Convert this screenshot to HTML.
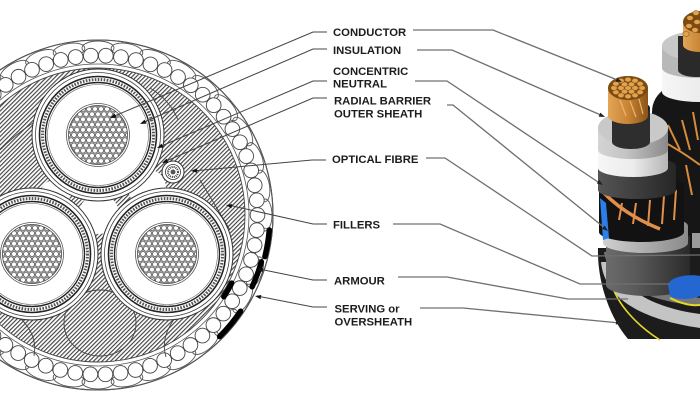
<!DOCTYPE html>
<html><head><meta charset="utf-8"><style>
html,body{margin:0;padding:0;background:#fff;width:700px;height:400px;overflow:hidden}
svg{display:block}
text{font-family:"Liberation Sans",Arial,sans-serif;font-weight:bold;font-size:11.3px;fill:#1c1c1c}
</style></head><body>
<svg width="700" height="400" viewBox="0 0 700 400" xmlns="http://www.w3.org/2000/svg">
<defs>
 <pattern id="h" width="3" height="3" patternUnits="userSpaceOnUse" patternTransform="rotate(45)">
  <rect width="3" height="3" fill="#fff"/>
  <rect x="0" y="0" width="1.15" height="3" fill="#444"/>
 </pattern>
 <pattern id="s" width="6" height="10.392" patternUnits="userSpaceOnUse">
  <rect width="6" height="10.392" fill="#b0b0b0"/>
  <g fill="#fff" stroke="#444" stroke-width="0.6">
   <circle cx="0" cy="0" r="2.4"/><circle cx="6" cy="0" r="2.4"/>
   <circle cx="0" cy="10.392" r="2.4"/><circle cx="6" cy="10.392" r="2.4"/>
   <circle cx="3" cy="5.196" r="2.4"/>
  </g>
 </pattern>
 <g id="core">
  <circle r="66" fill="#fff" stroke="#333" stroke-width="1"/>
  <circle r="62.5" fill="none" stroke="#444" stroke-width="0.8"/>
  <circle r="58.5" fill="none" stroke="#222" stroke-width="1.6"/>
  <circle r="55.5" fill="none" stroke="#555" stroke-width="3" stroke-dasharray="1.6 1.4"/>
  <circle r="52.5" fill="none" stroke="#222" stroke-width="1.4"/>
  <circle r="50.5" fill="none" stroke="#666" stroke-width="0.6"/>
  <circle r="31.5" fill="#fff" stroke="#555" stroke-width="0.8"/>
  <circle r="29.5" fill="url(#s)" stroke="#444" stroke-width="0.8"/>
 </g>
 <ellipse id="ov" cx="98" cy="48" rx="16" ry="7" fill="none" stroke="#555" stroke-width="0.9"/>
 <linearGradient id="gc" x1="0" x2="1"><stop offset="0" stop-color="#6b6b6b"/><stop offset="0.35" stop-color="#5a5a5a"/><stop offset="1" stop-color="#2a2a2a"/></linearGradient>
 <linearGradient id="gi" x1="0" x2="1"><stop offset="0" stop-color="#d4d4d4"/><stop offset="0.4" stop-color="#c4c4c4"/><stop offset="1" stop-color="#8a8a8a"/></linearGradient>
 <linearGradient id="gw" x1="0" x2="1"><stop offset="0" stop-color="#f6f6f6"/><stop offset="0.5" stop-color="#ececec"/><stop offset="1" stop-color="#b5b5b5"/></linearGradient>
 <linearGradient id="gd" x1="0" x2="1"><stop offset="0" stop-color="#555"/><stop offset="1" stop-color="#262626"/></linearGradient>
 <linearGradient id="gb" x1="0" x2="1"><stop offset="0" stop-color="#d0d0d0"/><stop offset="1" stop-color="#8a8a8a"/></linearGradient>
 <linearGradient id="gcu" x1="0" x2="1"><stop offset="0" stop-color="#e3a556"/><stop offset="0.5" stop-color="#c88535"/><stop offset="1" stop-color="#8a5518"/></linearGradient>
</defs>

<!-- ===== LEFT CROSS SECTION ===== -->
<circle cx="98" cy="215" r="175" fill="#fff" stroke="#555" stroke-width="1.1"/>
<g>
 <use href="#ov"/>
 <use href="#ov" transform="rotate(10 98 215)"/><use href="#ov" transform="rotate(20 98 215)"/><use href="#ov" transform="rotate(30 98 215)"/>
 <use href="#ov" transform="rotate(40 98 215)"/><use href="#ov" transform="rotate(50 98 215)"/><use href="#ov" transform="rotate(60 98 215)"/>
 <use href="#ov" transform="rotate(70 98 215)"/><use href="#ov" transform="rotate(80 98 215)"/><use href="#ov" transform="rotate(90 98 215)"/>
 <use href="#ov" transform="rotate(100 98 215)"/><use href="#ov" transform="rotate(110 98 215)"/><use href="#ov" transform="rotate(120 98 215)"/>
 <use href="#ov" transform="rotate(130 98 215)"/><use href="#ov" transform="rotate(140 98 215)"/><use href="#ov" transform="rotate(150 98 215)"/>
 <use href="#ov" transform="rotate(160 98 215)"/><use href="#ov" transform="rotate(170 98 215)"/><use href="#ov" transform="rotate(180 98 215)"/>
 <use href="#ov" transform="rotate(190 98 215)"/><use href="#ov" transform="rotate(200 98 215)"/><use href="#ov" transform="rotate(210 98 215)"/>
 <use href="#ov" transform="rotate(220 98 215)"/><use href="#ov" transform="rotate(230 98 215)"/><use href="#ov" transform="rotate(240 98 215)"/>
 <use href="#ov" transform="rotate(250 98 215)"/><use href="#ov" transform="rotate(260 98 215)"/><use href="#ov" transform="rotate(270 98 215)"/>
 <use href="#ov" transform="rotate(280 98 215)"/><use href="#ov" transform="rotate(290 98 215)"/><use href="#ov" transform="rotate(300 98 215)"/>
 <use href="#ov" transform="rotate(310 98 215)"/><use href="#ov" transform="rotate(320 98 215)"/><use href="#ov" transform="rotate(330 98 215)"/>
 <use href="#ov" transform="rotate(340 98 215)"/><use href="#ov" transform="rotate(350 98 215)"/>
</g>
<!-- armour wires -->
<circle cx="98" cy="215" r="159.5" fill="none" stroke="#444" stroke-width="15.6" stroke-dasharray="0 15.1844" stroke-linecap="round"/>
<circle cx="98" cy="215" r="159.5" fill="none" stroke="#fff" stroke-width="13.8" stroke-dasharray="0 15.1844" stroke-linecap="round"/>
<circle cx="98" cy="215" r="175" fill="none" stroke="#555" stroke-width="1.1"/>
<circle cx="98" cy="215" r="151" fill="none" stroke="#555" stroke-width="0.8"/>
<!-- fillers -->
<circle cx="98" cy="215" r="147" fill="url(#h)" stroke="#444" stroke-width="0.9"/>
<g fill="none" stroke="#444" stroke-width="0.9">
 <ellipse cx="100" cy="323" rx="36" ry="33"/>
 <path d="M20,318 Q38,335 34,356"/>
 <path d="M175,318 Q160,338 166,357"/>
 <path d="M0,150 Q22,128 42,118"/>
 <path d="M150,88 Q170,100 178,120"/>
 <path d="M200,180 Q215,205 230,230"/>
</g>
<g fill="#fff">
 <circle cx="99" cy="214" r="20"/>
 <circle cx="55" cy="195" r="15"/>
 <circle cx="147" cy="188" r="19"/>
</g>
<!-- cores -->
<use href="#core" transform="translate(98,135)"/>
<use href="#core" transform="translate(32,254)"/>
<use href="#core" transform="translate(167,254)"/>
<!-- optical fibre -->
<circle cx="173" cy="172" r="11" fill="#fff" stroke="#333" stroke-width="1"/>
<circle cx="173" cy="172" r="7.5" fill="#fff" stroke="#333" stroke-width="0.8"/>
<circle cx="173" cy="172" r="5" fill="none" stroke="#333" stroke-width="2" stroke-dasharray="1 1"/>
<circle cx="173" cy="172" r="2.5" fill="#555"/>
<!-- black serving pieces -->
<g fill="none" stroke="#000" stroke-width="5.5" stroke-linecap="round">
 <path d="M269.3,230 A172,172 0 0 1 264.9,256.6"/>
 <path d="M261.4,261.9 A170,170 0 0 1 252.1,286.8"/>
 <path d="M231.7,283.1 A150,150 0 0 1 223.8,296.7"/>
 <path d="M240.6,311.2 A172,172 0 0 1 219.6,336.6"/>
</g>

<!-- left leaders -->
<g fill="none" stroke="#444" stroke-width="1">
 <polyline points="327,32 313,32 112,117"/>
 <polyline points="327,49 313,49 142,123"/>
 <polyline points="327,81 313,81 159,147"/>
 <polyline points="327,98 313,98 164,162"/>
 <polyline points="326,160 312,160 193,171"/>
 <polyline points="327,224 313,224 228,205"/>
 <polyline points="327,280 313,280 259,269"/>
 <polyline points="327,307 313,307 257,296"/>
</g>
<g fill="#111">
 <polygon points="110,118 114.7,113.6 116.4,117.7"/>
 <polygon points="140,124 144.6,119.6 146.4,123.6"/>
 <polygon points="157,148 161.6,143.6 163.4,147.6"/>
 <polygon points="162,163 166.6,158.6 168.4,162.6"/>
 <polygon points="191,171 196.8,168.3 197.2,172.7"/>
 <polygon points="226,205 232.4,204.1 231.4,208.4"/>
 <polygon points="257,269 263.3,268 262.5,272.3"/>
 <polygon points="255,296 261.3,295 260.5,299.3"/>
</g>

<!-- labels -->
<text x="333" y="36">CONDUCTOR</text>
<text x="333" y="54">INSULATION</text>
<text x="333" y="75">CONCENTRIC</text>
<text x="333" y="87.3">NEUTRAL</text>
<text x="334" y="104.7">RADIAL BARRIER</text>
<text x="334" y="117.3">OUTER SHEATH</text>
<text x="332" y="163">OPTICAL FIBRE</text>
<text x="333" y="228.7">FILLERS</text>
<text x="334" y="284.3">ARMOUR</text>
<text x="334.5" y="312.7">SERVING or</text>
<text x="334.5" y="325.3">OVERSHEATH</text>

<!-- ===== RIGHT 3D CABLE ===== -->
<!-- back core -->
<path d="M652,112 C652,92 672,80 700,78 L700,300 L652,300 Z" fill="#161616"/>
<path d="M662,66 L662,92 A38,10 0 0 0 738,92 L738,66 Z" fill="url(#gw)"/>
<path d="M662,46 L662,68 A38,10 0 0 0 738,68 L738,46 A38,15 0 0 0 662,46 Z" fill="#b8b8b8"/>
<ellipse cx="700" cy="46" rx="38" ry="15" fill="#c8c8c8"/>
<path d="M678,36 L678,70 A18,7 0 0 0 714,70 L714,36 Z" fill="#2a2a2a"/>
<path d="M683,22 L683,45 A17,7 0 0 0 717,45 L717,22 Z" fill="url(#gcu)"/>
<ellipse cx="700" cy="22" rx="17" ry="11" fill="#7a4a12"/>
<g fill="#e2a24e" stroke="#8a5a1a" stroke-width="0.6">
 <ellipse cx="690" cy="18" rx="3.2" ry="2.4"/><ellipse cx="696" cy="13" rx="3.2" ry="2.4"/>
 <ellipse cx="697" cy="22" rx="3.2" ry="2.4"/><ellipse cx="689" cy="26" rx="3.2" ry="2.4"/>
 <ellipse cx="695" cy="30" rx="3.2" ry="2.4"/><ellipse cx="686" cy="34" rx="3.2" ry="2.4"/>
</g>
<g stroke="#d98a3a" stroke-width="2" fill="none">
 <path d="M668,125 L680,150"/><path d="M682,120 L690,150"/><path d="M693,112 L698,140"/>
 <path d="M672,170 L676,200"/><path d="M686,165 L692,195"/><path d="M660,140 Q680,150 700,165"/>
</g>
<rect x="692" y="233" width="8" height="34" fill="#9a9a9a"/>

<!-- outer layers -->
<path d="M598,248 C597,282 610,318 628,339 L700,339 L700,248 Z" fill="#1c1c1c"/>
<path d="M604,252 C608,278 636,300 700,306 L700,298 C660,292 625,276 614,252 Z" fill="#777"/>
<path d="M601,262 C604,292 630,318 700,328 L700,314 C654,308 622,290 612,262 Z" fill="#c4c4c4"/>
<path d="M611,282 C617,305 638,326 660,340" fill="none" stroke="#e6d82a" stroke-width="1.6"/>
<path d="M670,298 C682,304 692,306 700,305" fill="none" stroke="#e6d82a" stroke-width="2"/>

<!-- front core -->
<path d="M606,238 L606,285 A42,11 0 0 0 690,285 L690,238 A42,10 0 0 0 606,238 Z" fill="url(#gc)"/>
<path d="M668,285 C670,276 690,274 700,276 L700,296 C690,300 676,300 670,296 Z" fill="#2467d0"/>
<path d="M603,226 L603,243 A42.5,10 0 0 0 688,243 L688,226 A42.5,10 0 0 0 603,226 Z" fill="url(#gb)"/>
<path d="M599,186 L599,232 A42.5,10 0 0 0 684,232 L684,186 A42.5,9 0 0 0 599,186 Z" fill="#121212"/>
<path d="M600,198 L606,203 L609,238 L603,240 Z" fill="#2a80e8"/>
<g stroke="#e0904a" stroke-width="2" fill="none">
 <path d="M603,192 Q625,215 660,229" stroke-width="3.5"/>
 <path d="M622,203 L619,220"/><path d="M636,203 L633,224"/><path d="M650,200 L648,226"/>
 <path d="M664,196 L662,224"/><path d="M676,190 L674,220"/>
</g>
<path d="M598,166 L598,190 A39,9 0 0 0 676,190 L676,166 A39,9 0 0 0 598,166 Z" fill="url(#gd)"/>
<path d="M598,148 L598,168 A35,9 0 0 0 668,168 L668,148 A35,9 0 0 0 598,148 Z" fill="url(#gw)"/>
<path d="M598,128 L598,150 A35,9 0 0 0 668,150 L668,128 A35,17 0 0 0 598,128 Z" fill="url(#gi)"/>
<ellipse cx="633" cy="128" rx="35" ry="17" fill="#c9c9c9"/>
<path d="M612,108 L612,142 A19,7 0 0 0 650,142 L650,108 A19,7 0 0 0 612,108 Z" fill="#2e2e2e"/>
<ellipse cx="631" cy="108" rx="19" ry="7" fill="#1a1a1a"/>
<path d="M608,88 L608,116 A20,8 0 0 0 648,116 L648,88 A20,12 0 0 0 608,88 Z" fill="url(#gcu)"/>
<ellipse cx="628" cy="88" rx="20" ry="12" fill="#7a4a12"/>
<g fill="#e2a24e" stroke="#8a5a1a" stroke-width="0.6">
 <ellipse cx="628" cy="88" rx="3.2" ry="2.4"/>
 <ellipse cx="635" cy="88" rx="3.2" ry="2.4"/><ellipse cx="631.5" cy="91.6" rx="3.2" ry="2.4"/>
 <ellipse cx="624.5" cy="91.6" rx="3.2" ry="2.4"/><ellipse cx="621" cy="88" rx="3.2" ry="2.4"/>
 <ellipse cx="624.5" cy="84.4" rx="3.2" ry="2.4"/><ellipse cx="631.5" cy="84.4" rx="3.2" ry="2.4"/>
 <ellipse cx="642" cy="88" rx="3.2" ry="2.4"/><ellipse cx="640.1" cy="92.2" rx="3.2" ry="2.4"/>
 <ellipse cx="635" cy="95.3" rx="3.2" ry="2.4"/><ellipse cx="628" cy="96.4" rx="3.2" ry="2.4"/>
 <ellipse cx="621" cy="95.3" rx="3.2" ry="2.4"/><ellipse cx="615.9" cy="92.2" rx="3.2" ry="2.4"/>
 <ellipse cx="614" cy="88" rx="3.2" ry="2.4"/><ellipse cx="615.9" cy="83.8" rx="3.2" ry="2.4"/>
 <ellipse cx="621" cy="80.7" rx="3.2" ry="2.4"/><ellipse cx="628" cy="79.6" rx="3.2" ry="2.4"/>
 <ellipse cx="635" cy="80.7" rx="3.2" ry="2.4"/><ellipse cx="640.1" cy="83.8" rx="3.2" ry="2.4"/>
</g>
<g stroke="#f0b46a" stroke-width="1.2" fill="none">
 <path d="M620,100 L626,116"/><path d="M630,101 L636,117"/><path d="M639,99 L643,114"/>
</g>

<!-- right leaders -->
<g fill="none" stroke="#707070" stroke-width="1.35">
 <polyline points="413,30 493,30 620,81"/>
 <polyline points="417,50 452,50 603,116"/>
 <polyline points="415,81 447,81 601,184"/>
 <polyline points="447,105 453,105 606,229"/>
 <polyline points="426,158 445,158 592,256 700,255"/>
 <polyline points="393,224 440,224 580,284 670,284"/>
 <polyline points="398,277 447,277 568,299 628,299"/>
 <polyline points="420,308 463,308 620,323"/>
</g>
<g fill="#222">
 <polygon points="622,82 615.6,81.8 617.2,77.8"/>
 <polygon points="605,117 598.6,116.6 600.4,112.6"/>
 <polygon points="603,185 596.8,183.5 599.2,179.9"/>
 <polygon points="608,231 601.9,228.9 604.7,225.5"/>
 <polygon points="622,323 615.8,324.6 616.2,320.2"/>
</g>
</svg>
</body></html>
